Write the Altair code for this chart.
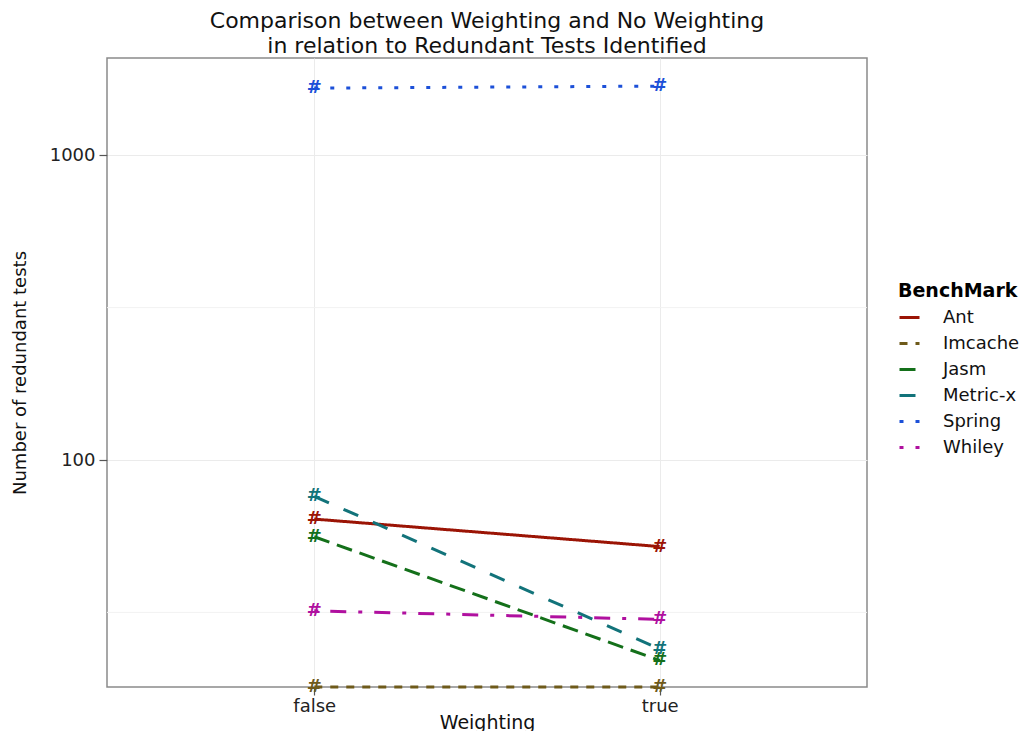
import altair as alt
import pandas as pd

weighting = ["false", "true"]
benchmarks = ["Ant", "Imcache", "Jasm", "Metric-x", "Spring", "Whiley"]
ant = [64, 52]
imcache = [18, 18]
jasm = [56, 22]
metric_x = [76, 24]
spring = [1660, 1685]
whiley = [32, 30]

series = [ant, imcache, jasm, metric_x, spring, whiley]
colors = ["#9b1405", "#6e5a1a", "#14701a", "#12737a", "#1c50d8", "#b0109f"]
dashes = [[1, 0], [8, 8], [16, 8], [16, 16], [4, 12], [4, 12, 16, 12]]

rows = []
for name, vals in zip(benchmarks, series):
    for w, v in zip(weighting, vals):
        rows.append({"Weighting": w, "BenchMark": name, "value": v})
df = pd.DataFrame(rows)

minor = pd.DataFrame({"v": [10 ** 1.5, 10 ** 2.5]})

ydom = [18, 2084]
yscale = alt.Scale(type="log", domain=ydom, nice=False)
xscale = alt.Scale(type="point", domain=weighting, padding=0.6)

font = "DejaVu Sans"

legend = alt.Legend(title="BenchMark", orient="none", legendX=791, legendY=224,
                    symbolType="stroke", symbolSize=400, symbolStrokeWidth=3,
                    titleFontSize=19, titleFont=font, titleFontWeight="bold", titleColor="#000",
                    labelFontSize=18, labelFont=font, labelColor="#111", labelOffset=22,
                    rowPadding=5, titlePadding=5)

minor_rules = alt.Chart(minor).mark_rule(color="#f2f2f2", strokeWidth=1).encode(
    y=alt.Y("v:Q", scale=yscale)
)

lines = alt.Chart(df).mark_line(strokeWidth=3, strokeCap="butt").encode(
    x=alt.X("Weighting:N", scale=xscale, sort=weighting,
            axis=alt.Axis(title="Weighting", labelAngle=0)),
    y=alt.Y("value:Q", scale=yscale,
            axis=alt.Axis(title="Number of redundant tests", values=[100, 1000], format="d")),
    color=alt.Color("BenchMark:N", scale=alt.Scale(domain=benchmarks, range=colors), legend=legend),
    strokeDash=alt.StrokeDash("BenchMark:N", scale=alt.Scale(domain=benchmarks, range=dashes),
                              legend=legend),
    detail="BenchMark:N",
)

marks = alt.Chart(df).mark_text(text="#", fontSize=18, fontWeight="bold", font=font,
                                align="center", baseline="middle").encode(
    x=alt.X("Weighting:N", scale=xscale, sort=weighting),
    y=alt.Y("value:Q", scale=yscale),
    color=alt.Color("BenchMark:N", scale=alt.Scale(domain=benchmarks, range=colors), legend=None),
)

chart = alt.layer(minor_rules, lines, marks).properties(
    width=760, height=629,
    title=alt.TitleParams(
        text=["Comparison between Weighting and No Weighting",
              "in relation to Redundant Tests Identified"],
        fontSize=22, font=font, fontWeight="normal", anchor="middle", color="#111",
        lineHeight=25, offset=0, frame="group"),
    autosize=alt.AutoSizeParams(type="none"),
    padding={"left": 99, "top": 50, "right": 158, "bottom": 44},
).configure_view(
    stroke="#8a8a8a", strokeWidth=1.5
).configure_axis(
    grid=True, gridColor="#ebebeb", gridWidth=1,
    domain=False, tickColor="#555", tickSize=8, tickWidth=1.2,
    labelFont=font, labelFontSize=18, labelColor="#222",
    titleFont=font, titleFontWeight="normal", titleColor="#111",
).configure_axisY(
    titleFontSize=18, titlePadding=20, labelPadding=4,
).configure_axisX(
    titleFontSize=19, titlePadding=-2, labelPadding=2,
)

chart.save("out.html", embed_options={"renderer": "svg", "actions": False})
